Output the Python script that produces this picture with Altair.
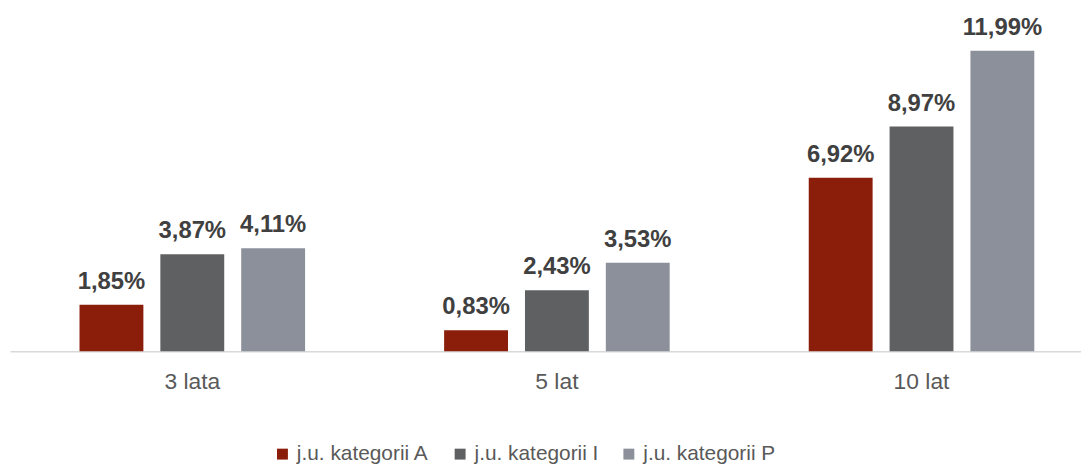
import altair as alt
import pandas as pd

categories = ["3 lata", "5 lat", "10 lat"]
series = ["j.u. kategorii A", "j.u. kategorii I", "j.u. kategorii P"]
values_a = [1.85, 0.83, 6.92]
values_i = [3.87, 2.43, 8.97]
values_p = [4.11, 3.53, 11.99]
colors = ["#8B1E0A", "#5F6062", "#8C909B"]

rows = []
for s, vals in zip(series, [values_a, values_i, values_p]):
    for c, v in zip(categories, vals):
        rows.append({"okres": c, "seria": s, "wartosc": v,
                     "etykieta": f"{v:.2f}".replace(".", ",") + "%"})
df = pd.DataFrame(rows)

FONT = "Liberation Sans"

x = alt.X("okres:N", sort=categories, title=None,
          scale=alt.Scale(range=[0, 1102], paddingInner=0, paddingOuter=0),
          axis=alt.Axis(labelAngle=0, ticks=False, labelFontSize=23, labelColor="#595959",
                        labelFont=FONT, labelPadding=20, domainColor="#D9D9D9", domainWidth=1.5))
xo = alt.XOffset("seria:N", sort=series,
                 scale=alt.Scale(paddingInner=0.21, paddingOuter=0.86))
y = alt.Y("wartosc:Q", scale=alt.Scale(domain=[0, 13], nice=False), axis=None)

bars = alt.Chart(df).mark_bar().encode(
    x=x, xOffset=xo, y=y,
    color=alt.Color("seria:N", sort=series,
                    scale=alt.Scale(domain=series, range=colors),
                    legend=alt.Legend(title=None, orient="none", legendX=264, legendY=421,
                                      direction="horizontal", symbolType="square",
                                      symbolSize=121, symbolStrokeWidth=0,
                                      labelFontSize=21, labelColor="#595959", labelFont=FONT,
                                      columnPadding=20, labelOffset=4, padding=0)),
)

labels = alt.Chart(df).mark_text(fontSize=24, fontWeight="bold", color="#404040",
                                 font=FONT, baseline="alphabetic", dy=-16).encode(
    x=x, xOffset=xo, y=y, text="etykieta:N")

chart = alt.layer(bars, labels).properties(
    width=1079, height=328,
    autosize=alt.AutoSizeParams(type="none"),
    padding={"left": 2, "top": 16, "right": 0, "bottom": 113},
).configure_view(stroke=None)

chart.save("out.html", embed_options={"renderer": "svg", "actions": False})
